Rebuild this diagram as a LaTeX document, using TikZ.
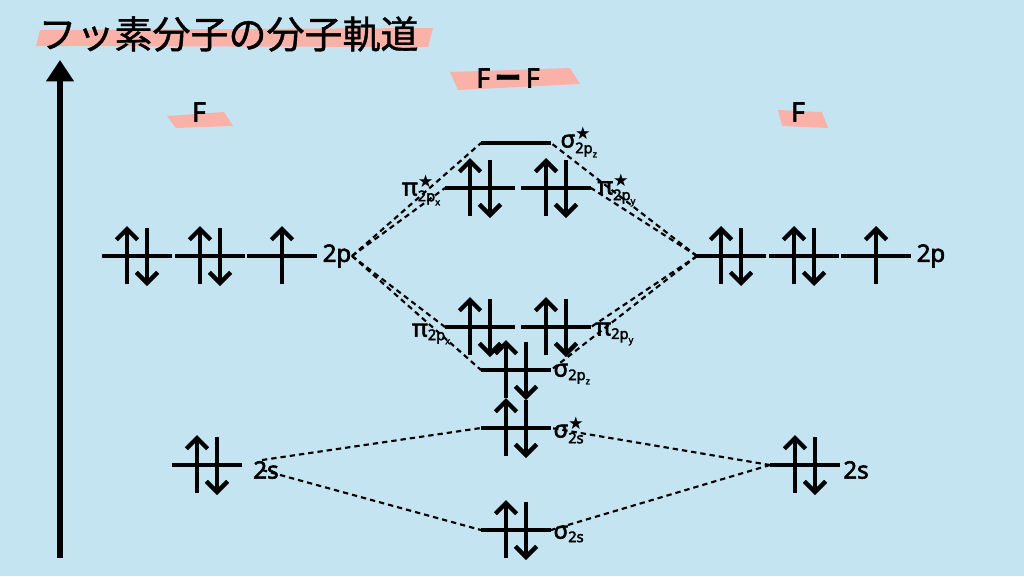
\documentclass[tikz,border=0pt]{standalone}
\usepackage{fontspec}
\setmainfont{Noto Sans}[FakeBold=2.5]
\newfontfamily\jpfont{Noto Sans CJK JP}[FakeBold=1]
\newfontfamily\starfont{DejaVu Sans}
\usetikzlibrary{arrows.meta}
\definecolor{bgblue}{RGB}{197,228,241}
\definecolor{hlpink}{RGB}{250,178,168}
\tikzset{every picture/.style={line width=0.75pt}}
\tikzset{
  lvl/.style={line width=3.4pt},
  spin/.style={line width=3.4pt,-{Straight Barb[length=8pt,width=16pt,line width=3.2pt]}},
  link/.style={dash pattern=on 4pt off 3pt,line width=1.6pt},
  tag/.style={font=\bfseries\fontsize{18}{18}\selectfont,inner sep=0pt},
  hl/.style={fill=hlpink,draw=none}
}
% level line with end coordinates
\newcommand{\lvline}[3]{\draw[lvl] (#2-35,#3) coordinate (#1l) -- (#2+35,#3) coordinate (#1r);}
\newcommand{\spinpair}[2]{\draw[spin] (#1-10,#2+28) -- (#1-10,#2-30);
  \draw[spin] (#1+10,#2-28) -- (#1+10,#2+30);}
\newcommand{\spinup}[2]{\draw[spin] (#1,#2+28) -- (#1,#2-30);}
\newcommand{\sub}[1]{\mbox{\fontsize{11}{11}\selectfont\bfseries #1}}
\newcommand{\subb}[1]{\mbox{\fontsize{7}{7}\selectfont\bfseries #1}}
\newcommand{\str}{\mbox{\starfont\fontsize{13}{13}\selectfont ★}}
\begin{document}
\begin{tikzpicture}[x=0.75pt,y=0.75pt,yscale=-1,xscale=1]
	\fill[bgblue] (0,0) rectangle (1024,576);

	% highlights
	\fill[hl] (40,30) -- (433,28) -- (428,47) -- (36,46) -- cycle;
	\fill[hl] (450,72) -- (570,68) -- (580,84) -- (458,90) -- cycle;
	\fill[hl] (167,116) -- (224,112) -- (233,126) -- (176,128) -- cycle;
	\fill[hl] (778,110) -- (822,112) -- (828,128) -- (782,126) -- cycle;

	% texts
	\node[inner sep=0pt,anchor=west] (title) at (38,34) {\jpfont\fontsize{28.5}{30}\selectfont フッ素分子の分子軌道};
	\node[tag,font=\bfseries\fontsize{20}{20}\selectfont] (ff) at (508,78) {F\,{\jpfont ー}\,F};
	\node[tag,font=\bfseries\fontsize{20}{20}\selectfont] (fa) at (199,112) {F};
	\node[tag,font=\bfseries\fontsize{20}{20}\selectfont] (fb) at (798,112) {F};

	% energy axis
	\draw[line width=4.5pt,-{Triangle[length=16pt,width=20pt]}] (60,558) -- (60,60);

	% atomic levels
	\lvline{pa}{137}{256} \spinpair{137}{256}
	\lvline{pb}{210}{256} \spinpair{210}{256}
	\lvline{pc}{282}{256} \spinup{282}{256}
	\lvline{pd}{731}{256} \spinpair{731}{256}
	\lvline{pe}{804}{256} \spinpair{804}{256}
	\lvline{pf}{876}{256} \spinup{876}{256}
	\lvline{sa}{207}{465} \spinpair{207}{465}
	\lvline{sb}{805}{465} \spinpair{805}{465}

	% molecular levels
	\lvline{ssp}{516}{143}
	\lvline{ppx}{480}{188} \spinpair{480}{188}
	\lvline{ppy}{556}{188} \spinpair{556}{188}
	\lvline{px}{480}{327} \spinpair{480}{327}
	\lvline{py}{556}{327} \spinpair{556}{327}
	\lvline{sp}{516}{370} \spinpair{516}{370}
	\lvline{sss}{516}{428} \spinpair{516}{428}
	\lvline{ss}{516}{530} \spinpair{516}{530}

	% labels
	\node[tag] (lpa) at (337,256) {2p};
	\node[tag] (lpb) at (931,256) {2p};
	\node[tag] (lsa) at (266,470) {2s};
	\node[tag] (lsb) at (856,470) {2s};
	\node[tag,anchor=west] (lssp) at (560,142) {σ$^{\str}_{\sub{2p}_{\subb{z}}}$};
	\node[tag,anchor=east] (lppx) at (442,190) {π$^{\str}_{\sub{2p}_{\subb{x}}}$};
	\node[tag,anchor=west] (lppy) at (597,190) {π$^{\str}_{\sub{2p}_{\subb{y}}}$};
	\node[tag,anchor=east] (lpx) at (452,334) {π$_{\sub{2p}_{\subb{x}}}$};
	\node[tag,anchor=west] (lpy) at (595,334) {π$_{\sub{2p}_{\subb{y}}}$};
	\node[tag,anchor=west] (lsp) at (553,374) {σ$_{\sub{2p}_{\subb{z}}}$};
	\node[tag,anchor=west] (lsss) at (553,430) {σ$^{\str}_{\sub{2s}}$};
	\node[tag,anchor=west] (lss) at (553,534) {σ$_{\sub{2s}}$};

	% correlation lines
	\coordinate (jl) at (352,256);
	\coordinate (jr) at (697,256);
	\draw[link] (jl) -- (sspl);
	\draw[link] (jl) -- (ppxl);
	\draw[link] (jl) -- (pxl);
	\draw[link] (jl) -- (spl);
	\draw[link] (jr) -- (sspr);
	\draw[link] (jr) -- (ppyr);
	\draw[link] (jr) -- (pyr);
	\draw[link] (jr) -- (spr);
	\draw[link] (262,460) -- (sssl);
	\draw[link] (262,470) -- (ssl);
	\draw[link] (sbl) -- (sssr);
	\draw[link] (sbl) -- (ssr);
\end{tikzpicture}
\end{document}
